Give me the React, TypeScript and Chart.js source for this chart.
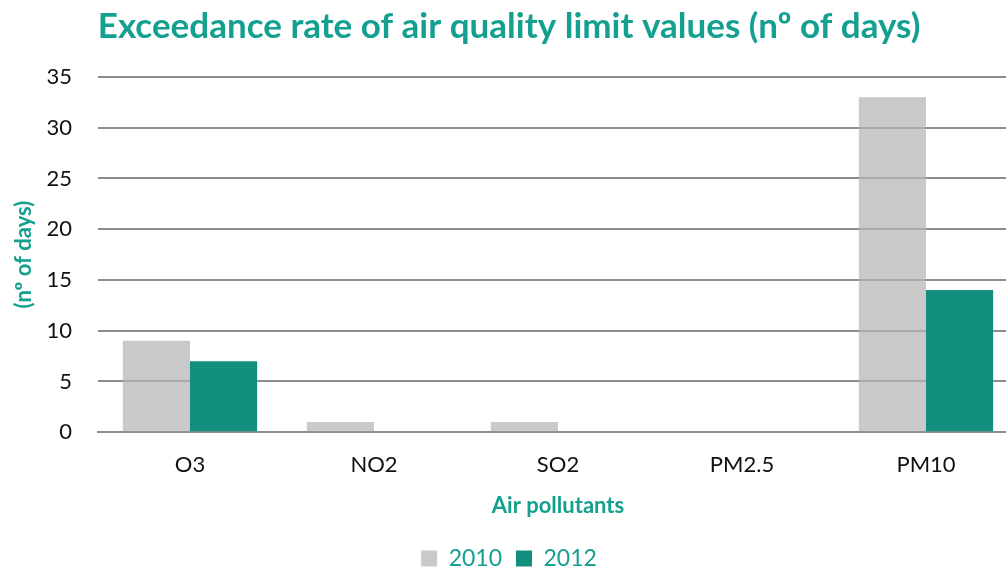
import React, { useEffect, useRef } from "react";
import { Chart, registerables } from "chart.js";

Chart.register(...registerables);

const categories = ["O3", "NO2", "SO2", "PM2.5", "PM10"];
const values2010 = [9, 1, 1, 0, 33];
const values2012 = [7, 0, 0, 0, 14];
const seriesLabels = ["2010", "2012"];
const yTicks = [0, 5, 10, 15, 20, 25, 30, 35];

const TEAL_TEXT = "#14a08f";
const TEAL_BAR = "#138f7e";
const GRID = "#8c8c8c";
const FONT = "Lato, 'Open Sans', sans-serif";

export default function App() {
  const ref = useRef<HTMLCanvasElement>(null);
  useEffect(() => {
    document.body.style.margin = "0";
    document.body.style.overflow = "hidden";
    const chart = new Chart(ref.current!, {
      type: "bar",
      data: {
        labels: categories,
        datasets: [
          {
            label: seriesLabels[0],
            data: values2010,
            backgroundColor: "rgba(180,180,180,0.72)",
            borderWidth: 0,
          },
          {
            label: seriesLabels[1],
            data: values2012,
            backgroundColor: TEAL_BAR,
            borderWidth: 0,
          },
        ],
      },
      options: {
        animation: false,
        responsive: false,
        maintainAspectRatio: false,
        layout: { padding: { left: 0, right: 0, top: 0, bottom: 4 } },
        datasets: {
          bar: { categoryPercentage: 0.73, barPercentage: 1 },
        },
        plugins: {
          title: {
            display: true,
            text: "Exceedance rate of air quality limit values (nº of days)",
            color: TEAL_TEXT,
            font: { family: FONT, size: 35, weight: "bold" },
            padding: { top: 6, bottom: 29 },
          },
          legend: {
            position: "bottom",
            labels: {
              color: TEAL_TEXT,
              font: { family: FONT, size: 23 },
              boxWidth: 16,
              boxHeight: 16,
              padding: 14,
            },
          },
          tooltip: { enabled: false },
        },
        scales: {
          x: {
            grid: { display: false },
            border: { display: true, color: GRID, width: 2 },
            ticks: {
              color: "#111",
              font: { family: FONT, size: 22 },
              padding: 12,
            },
            title: {
              display: true,
              text: "Air pollutants",
              color: TEAL_TEXT,
              font: { family: FONT, size: 22, weight: "bold" },
              padding: { top: 2, bottom: 14 },
            },
          },
          y: {
            min: 0,
            max: 35,
            afterBuildTicks: (scale: any) => {
              scale.ticks = yTicks.map((v) => ({ value: v }));
            },
            afterFit: (scale: any) => {
              scale.width = 98;
            },
            grid: { color: GRID, lineWidth: 2, drawTicks: false },
            border: { display: false },
            ticks: {
              color: "#111",
              font: { family: FONT, size: 22 },
              padding: 26,
            },
            title: {
              display: true,
              text: "(nº of days)",
              color: TEAL_TEXT,
              font: { family: FONT, size: 22, weight: "bold" },
              padding: { top: 11, bottom: 0 },
            },
          },
        },
      },
    });
    return () => chart.destroy();
  }, []);
  return (
    <div style={{ width: 1006, height: 570, overflow: "hidden", position: "relative" }}>
      <canvas
        ref={ref}
        width={1018}
        height={584}
        style={{ position: "absolute", left: 0, top: 0, width: 1018, height: 584 }}
      />
    </div>
  );
}
